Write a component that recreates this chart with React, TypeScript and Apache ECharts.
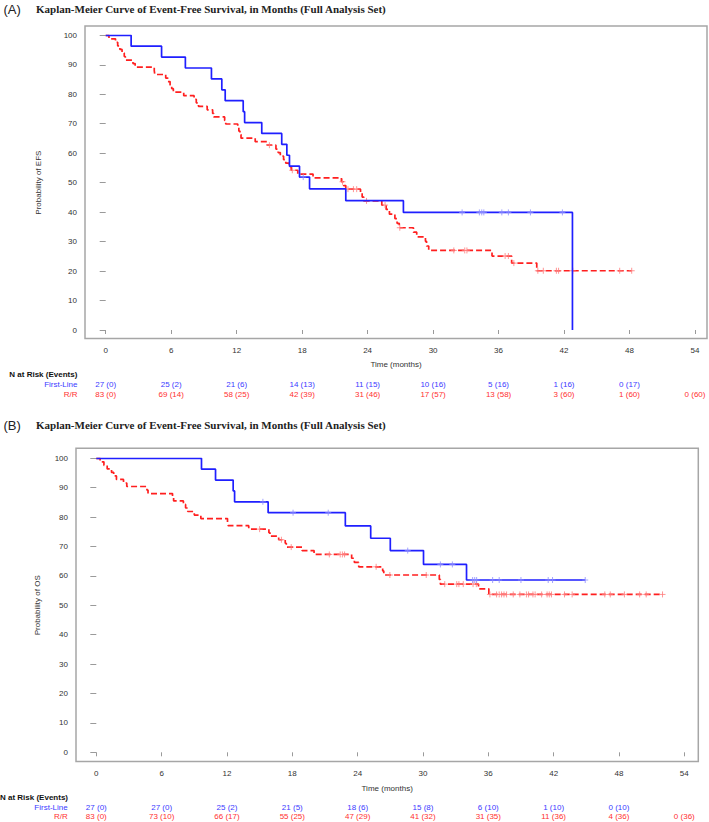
import React, { useEffect, useRef } from "react";
import * as echarts from "echarts";

// ---------------- DATA ----------------
const riskTimes = [0, 6, 12, 18, 24, 30, 36, 42, 48, 54];

// Panel A (EFS): [time of event (months), survival % after event]
const efsFirstLineEvents: [number, number][] = [
  [0, 100], [2.33, 96.3], [5.12, 92.6], [7.3, 88.9], [9.69, 85.2], [10.64, 81.5],
  [10.95, 77.8], [12.6, 74.1], [12.73, 70.4], [14.3, 66.7], [16.13, 63.0], [16.6, 59.3],
  [16.84, 55.6], [17.76, 51.9], [18.68, 47.9], [22.0, 43.9], [27.28, 39.9], [42.77, 0],
];
const efsFirstLineCensored = [18.1, 32.66, 34.24, 34.46, 34.65, 36.3, 36.9, 38.92, 41.85];

const efsRREvents: [number, number][] = [
  [0, 100], [0.3, 98.8], [0.9, 97.6], [1.1, 96.4], [1.3, 95.2], [1.5, 94.0], [1.7, 92.8],
  [1.8, 91.6], [2.5, 90.4], [2.7, 89.2], [4.45, 88.0], [4.5, 86.7], [5.5, 85.5], [5.7, 84.3],
  [5.9, 83.1], [6.05, 81.9], [6.2, 80.7], [7.15, 79.5], [8.1, 78.3], [8.3, 77.1], [8.5, 75.9],
  [9.3, 74.7], [9.8, 73.5], [9.9, 72.3], [10.9, 71.1], [11.0, 69.9], [12.1, 68.7], [12.2, 67.5],
  [12.3, 66.3], [12.4, 65.1], [13.7, 63.9], [14.8, 62.7], [15.6, 61.4], [15.8, 60.2],
  [16.0, 59.0], [16.3, 57.8], [16.5, 56.6], [16.8, 55.4], [17.0, 54.2], [17.6, 52.9],
  [19.0, 51.6], [21.6, 50.3], [21.8, 49.0], [22.0, 47.8], [23.35, 46.5], [23.5, 45.1],
  [23.65, 43.8], [25.3, 42.4], [25.7, 40.9], [26.0, 39.3], [26.5, 37.8], [26.7, 36.2],
  [26.9, 34.7], [28.2, 33.2], [28.5, 31.6], [29.3, 30.1], [29.4, 28.5], [29.6, 27.0],
  [35.4, 25.1], [37.2, 22.7], [39.5, 20.1],
];
const efsRRCensored = [
  15.0, 17.1, 21.7, 22.2, 22.7, 23.0, 23.9, 25.6, 26.95, 31.9, 32.9, 33.1, 36.6, 36.9,
  37.4, 39.6, 40.1, 41.3, 41.5, 42.8, 47.1, 48.2,
];

const efsFirstLineAtRisk = [27, 25, 21, 14, 11, 10, 5, 1, 0];
const efsFirstLineEventsCum = [0, 2, 6, 13, 15, 16, 16, 16, 17];
const efsRRAtRisk = [83, 69, 58, 42, 31, 17, 13, 3, 1, 0];
const efsRREventsCum = [0, 14, 25, 39, 46, 57, 58, 60, 60, 60];

// Panel B (OS)
const osFirstLineEvents: [number, number][] = [
  [0, 100], [9.66, 96.3], [10.95, 92.6], [12.57, 88.9], [12.7, 85.2], [15.78, 81.5],
  [22.87, 77.0], [25.2, 72.8], [27.0, 68.6], [30.05, 63.9], [34.0, 58.6],
];
const osFirstLineCensored = [
  15.3, 18.07, 21.3, 28.6, 31.6, 32.7, 34.56, 34.75, 34.93, 36.4, 37.0, 39.0, 41.5, 41.9, 44.9,
];

const osRREvents: [number, number][] = [
  [0, 100], [0.35, 98.8], [0.7, 97.6], [1.0, 96.4], [1.4, 95.2], [1.6, 94.0], [1.85, 92.8],
  [2.5, 91.6], [2.8, 90.4], [4.65, 89.2], [4.75, 88.0], [7.0, 86.7], [7.1, 85.5], [8.0, 84.3],
  [8.2, 83.1], [8.4, 81.9], [9.0, 80.7], [9.6, 79.5], [12.05, 78.3], [12.1, 77.1], [14.0, 75.9],
  [15.85, 74.7], [15.95, 73.5], [16.75, 72.3], [17.35, 71.1], [17.45, 69.8], [18.9, 68.6],
  [20.0, 67.3], [23.45, 66.0], [23.7, 64.6], [24.1, 63.1], [26.3, 61.7], [26.4, 60.3],
  [31.5, 58.8], [31.6, 57.2], [35.1, 55.6], [36.05, 53.7],
];
const osRRCensored = [
  15.0, 17.0, 17.9, 21.4, 22.4, 22.6, 22.8, 25.7, 26.96, 30.3, 32.0, 33.1, 33.3, 33.7, 34.6,
  34.9, 36.15, 36.76, 37.0, 37.22, 37.44, 37.68, 38.29, 38.9, 39.5, 39.7, 40.1, 40.3, 40.9,
  41.4, 41.6, 41.8, 43.0, 43.7, 46.7, 47.2, 48.5, 49.9, 50.5, 52.0,
];

const osFirstLineAtRisk = [27, 27, 25, 21, 18, 15, 6, 1, 0];
const osFirstLineEventsCum = [0, 0, 2, 5, 6, 8, 10, 10, 10];
const osRRAtRisk = [83, 73, 66, 55, 47, 41, 31, 11, 4, 0];
const osRREventsCum = [0, 10, 17, 25, 29, 32, 35, 36, 36, 36];

const titleText = "Kaplan-Meier Curve of Event-Free Survival, in Months (Full Analysis Set)";

// ---------------- HELPERS ----------------
const BLUE = "#1f1fff";
const RED = "#ff1f1f";
const BLUE_C = "#8c8cff";
const RED_C = "#ff7a7a";
const BLUE_T = "#3b3bff";
const RED_T = "#ff3030";
const SANS = "'Liberation Sans', Arial, sans-serif";
const SERIF = "'Liberation Serif', 'Times New Roman', serif";
const PLUS = "path://M5,0L5,10M0,5L10,5";

function survivalAt(events: [number, number][], t: number) {
  let s = 100;
  for (const [et, es] of events) {
    if (et <= t) s = es;
    else break;
  }
  return s;
}
function curve(events: [number, number][], censored: number[]) {
  const pts = events.map((p) => [p[0], p[1]]);
  const lastC = Math.max(...censored);
  const last = events[events.length - 1];
  if (lastC > last[0]) pts.push([lastC, last[1]]);
  return pts;
}
function marks(events: [number, number][], censored: number[]) {
  return censored.map((t) => [t, survivalAt(events, t)]);
}
function riskFormatter(atRisk: number[], ev: number[]) {
  return (v: number) => {
    const i = riskTimes.indexOf(Math.round(v));
    if (i < 0 || i >= atRisk.length) return "";
    return `${atRisk[i]} (${ev[i]})`;
  };
}

type Panel = {
  plotL: number; plotT: number; plotR: number; plotB: number;
  frameL: number; frameT: number; frameR: number; frameB: number;
};
const PA: Panel = { plotL: 105.7, plotT: 35.3, plotR: 695, plotB: 330, frameL: 85, frameT: 26, frameR: 707, frameB: 338.5 };
const PB: Panel = { plotL: 96.3, plotT: 458.3, plotR: 684.3, plotB: 752.3, frameL: 76, frameT: 448.3, frameR: 698.3, frameB: 761.5 };

function axesFor(p: Panel, gi: number, fl: [number[], number[]], rr: [number[], number[]]) {
  const base = { gridIndex: gi, type: "value", min: 0, max: 54, interval: 6, position: "bottom", splitLine: { show: false } };
  const main = {
    ...base,
    offset: p.frameB - p.plotB,
    axisLine: { show: false },
    axisTick: { show: true, length: 4, lineStyle: { color: "#9a9a9a", width: 1 } },
    axisLabel: { margin: 6.5, fontSize: 8, lineHeight: 10, color: "#333", fontFamily: SANS },
  };
  const row = (off: number, color: string, f: (v: number) => string) => ({
    ...base,
    offset: off,
    axisLine: { show: false },
    axisTick: { show: false },
    axisLabel: { margin: 0, fontSize: 8, lineHeight: 10, color, fontFamily: SANS, formatter: f },
  });
  const firstRowY = gi === 0 ? 384 : 807;
  const secondRowY = gi === 0 ? 394 : 816.7;
  return [
    main,
    row(firstRowY - 5 - p.plotB, BLUE_T, riskFormatter(fl[0], fl[1])),
    row(secondRowY - 5 - p.plotB, RED_T, riskFormatter(rr[0], rr[1])),
  ];
}
function yAxisFor(p: Panel, gi: number) {
  return {
    gridIndex: gi, type: "value", min: 0, max: 100, interval: 10,
    offset: p.plotL - p.frameL,
    axisLine: { show: false },
    axisTick: { show: true, length: 6, lineStyle: { color: "#9a9a9a", width: 1 } },
    axisLabel: { margin: 8, fontSize: 8, color: "#333", fontFamily: SANS },
    splitLine: { show: false },
  };
}
function seriesFor(xi: number, yi: number, fe: [number, number][], fc: number[], re: [number, number][], rc: number[]) {
  return [
    {
      type: "line", xAxisIndex: xi, yAxisIndex: yi, step: "end", symbol: "none",
      data: curve(re, rc), lineStyle: { color: RED, width: 1.7, type: [6, 3] }, z: 3,
    },
    {
      type: "scatter", xAxisIndex: xi, yAxisIndex: yi, symbol: PLUS, symbolSize: 6,
      data: marks(re, rc), itemStyle: { color: "none", borderColor: RED_C, borderWidth: 1 }, z: 4,
    },
    {
      type: "line", xAxisIndex: xi, yAxisIndex: yi, step: "end", symbol: "none",
      data: curve(fe, fc), lineStyle: { color: BLUE, width: 1.7 }, z: 5,
    },
    {
      type: "scatter", xAxisIndex: xi, yAxisIndex: yi, symbol: PLUS, symbolSize: 6,
      data: marks(fe, fc), itemStyle: { color: "none", borderColor: BLUE_C, borderWidth: 1 }, z: 6,
    },
  ];
}
function graphicsFor(p: Panel, label: string, yName: string, titleY: number, timeY: number, headY: number, row1Y: number, row2Y: number, headX: number, rowRight: number, yNameX: number) {
  return [
    {
      type: "rect", shape: { x: p.frameL, y: p.frameT, width: p.frameR - p.frameL, height: p.frameB - p.frameT },
      style: { fill: "none", stroke: "#a6a6a6", lineWidth: 1.5 }, z: 1,
    },
    { type: "text", x: 3.5, y: titleY, style: { text: label, fontSize: 13, fontFamily: SANS, fill: "#222", verticalAlign: "middle", align: "left" } },
    { type: "text", x: 36, y: titleY, style: { text: titleText, fontSize: 11, fontWeight: "bold", fontFamily: SERIF, fill: "#222", verticalAlign: "middle", align: "left" } },
    { type: "text", x: (p.frameL + p.frameR) / 2, y: timeY, style: { text: "Time (months)", fontSize: 8, fontFamily: SANS, fill: "#333", verticalAlign: "middle", align: "center" } },
    { type: "text", x: yNameX, y: (p.plotT + p.plotB) / 2, rotation: Math.PI / 2, style: { text: yName, fontSize: 8, fontFamily: SANS, fill: "#333", verticalAlign: "middle", align: "center" } },
    { type: "text", x: headX, y: headY, style: { text: "N at Risk (Events)", fontSize: 8, fontWeight: "bold", fontFamily: SANS, fill: "#111", verticalAlign: "middle", align: "left" } },
    { type: "text", x: rowRight, y: row1Y, style: { text: "First-Line", fontSize: 8, fontFamily: SANS, fill: BLUE_T, verticalAlign: "middle", align: "right" } },
    { type: "text", x: rowRight, y: row2Y, style: { text: "R/R", fontSize: 8, fontFamily: SANS, fill: RED_T, verticalAlign: "middle", align: "right" } },
  ];
}

export default function App() {
  const ref = useRef<HTMLDivElement>(null);
  useEffect(() => {
    if (!ref.current) return;
    const chart = echarts.init(ref.current, null, { renderer: "svg" });
    const option: any = {
      animation: false,
      backgroundColor: "#ffffff",
      grid: [
        { left: PA.plotL, top: PA.plotT, width: PA.plotR - PA.plotL, height: PA.plotB - PA.plotT },
        { left: PB.plotL, top: PB.plotT, width: PB.plotR - PB.plotL, height: PB.plotB - PB.plotT },
      ],
      xAxis: [
        ...axesFor(PA, 0, [efsFirstLineAtRisk, efsFirstLineEventsCum], [efsRRAtRisk, efsRREventsCum]),
        ...axesFor(PB, 1, [osFirstLineAtRisk, osFirstLineEventsCum], [osRRAtRisk, osRREventsCum]),
      ],
      yAxis: [yAxisFor(PA, 0), yAxisFor(PB, 1)],
      series: [
        ...seriesFor(0, 0, efsFirstLineEvents, efsFirstLineCensored, efsRREvents, efsRRCensored),
        ...seriesFor(3, 1, osFirstLineEvents, osFirstLineCensored, osRREvents, osRRCensored),
      ],
      graphic: [
        ...graphicsFor(PA, "(A)", "Probability of EFS", 9, 364, 374, 384, 394, 9.3, 77.5, 38),
        ...graphicsFor(PB, "(B)", "Probability of OS", 425, 788, 797.7, 807, 816.7, 0, 67.7, 37),
      ],
    };
    chart.setOption(option);
    return () => chart.dispose();
  }, []);
  return <div ref={ref} style={{ position: "absolute", left: 0, top: 0, width: 709, height: 822, background: "#fff" }} />;
}
